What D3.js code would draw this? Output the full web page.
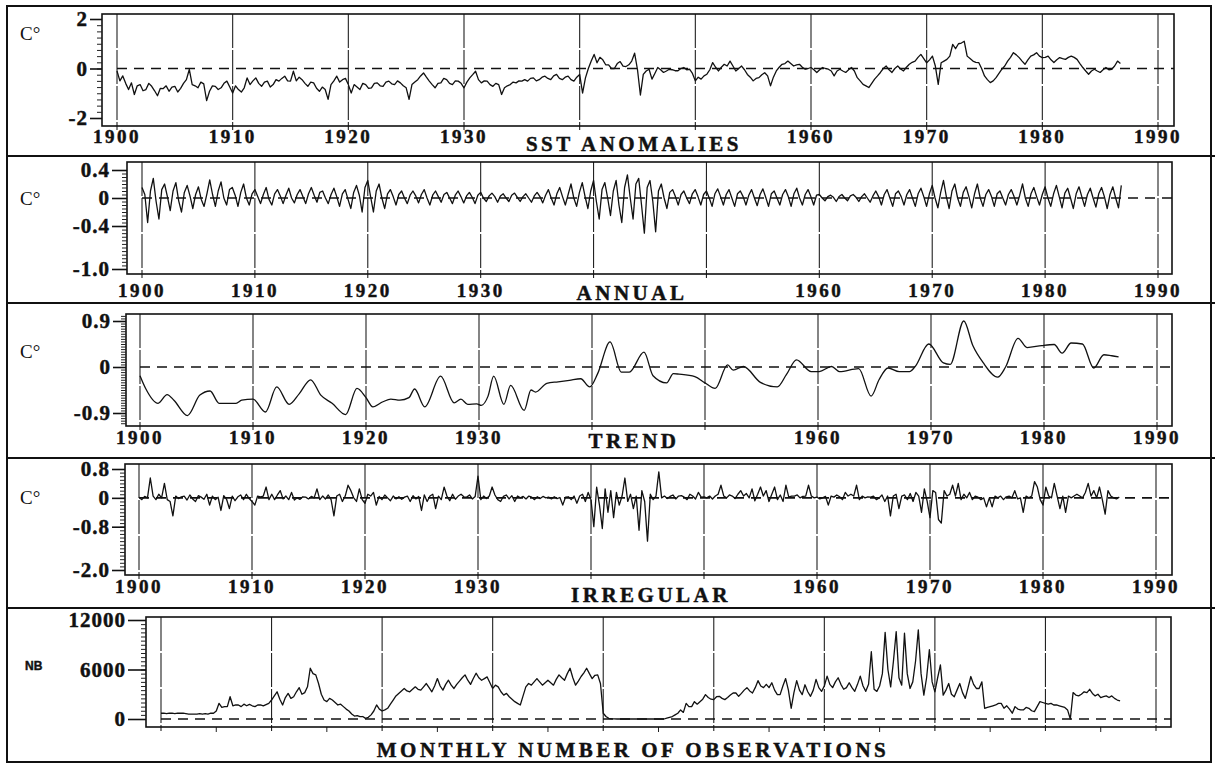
<!DOCTYPE html>
<html>
<head>
<meta charset="utf-8">
<script src="https://cdn.jsdelivr.net/npm/d3@7"></script>
<style>
body { margin: 0; background: #fff; }
svg text { font-family: "Liberation Serif", "Times New Roman", serif; font-weight: bold; fill: #111; stroke: #111; stroke-width: 0.45px; }
.ylab text { font-family: "Liberation Serif", serif; font-size: 21px; font-weight: bold; letter-spacing: 1px; }
.unit { font-weight: normal !important; font-size: 19px; stroke-width: 0 !important; }
.nb { font-family: "Liberation Sans", Arial, sans-serif !important; font-size: 12px; }
</style>
</head>
<body>
<svg id="fig" width="1215" height="765"></svg>
<script>
// decade grid and the years that carry a label (1940/1950 sit under the titles)
var decadeTicks = [1900, 1910, 1920, 1930, 1940, 1950, 1960, 1970, 1980, 1990];
var yearLabels = [1900, 1910, 1920, 1930, 1960, 1970, 1980, 1990];
var halfDecades = [1905, 1915, 1925, 1935, 1945, 1955, 1965, 1975, 1985];

// all series below: one value per quarter, 1900.00 .. 1986.75
var sstAnomalies = [
 -0.1,-0.5,-0.3,-0.6, -0.85,-0.58,-1.05,-0.7, -0.65,-0.9,-0.85,-0.6, -0.72,-0.9,-1.1,-0.8, -0.81,-0.7,-0.92,-0.75,
 -0.72,-0.95,-0.8,-0.6, -0.45,-0.04,-0.65,-0.7, -0.78,-0.55,-0.62,-1.3, -0.92,-0.7,-0.72,-0.85, -0.78,-0.6,-0.51,-0.75,
 -0.99,-0.7,-0.85,-0.95, -0.78,-0.38,-0.65,-0.5, -0.38,-0.6,-0.72,-0.55, -0.51,-0.75,-0.65,-0.45, -0.51,-0.4,-0.31,-0.5,
 -0.51,-0.11,-0.5,-0.35, -0.45,-0.6,-0.72,-0.55, -0.58,-0.8,-0.92,-0.75, -0.85,-1.25,-0.65,-0.5, -0.31,-0.55,-0.45,-0.4,
 -0.65,-0.99,-0.65,-0.75, -0.85,-0.6,-0.65,-0.8, -0.78,-0.6,-0.58,-0.7, -0.72,-0.55,-0.51,-0.62, -0.65,-0.5,-0.58,-0.7,
 -0.78,-1.25,-0.65,-0.55, -0.45,-0.3,-0.18,-0.35, -0.51,-0.65,-0.78,-0.6, -0.58,-0.4,-0.45,-0.6, -0.65,-0.5,-0.51,-0.6,
 -0.78,-0.55,-0.38,-0.25, -0.11,-0.45,-0.58,-0.5, -0.51,-0.65,-0.72,-0.6, -0.65,-1.05,-0.78,-0.7, -0.65,-0.55,-0.58,-0.5,
 -0.51,-0.45,-0.51,-0.4, -0.38,-0.5,-0.45,-0.35, -0.31,-0.4,-0.45,-0.3, -0.24,-0.4,-0.45,-0.35, -0.31,-0.45,-0.51,-0.35,
 -0.24,-0.99,-0.38,0.0, 0.3,0.57,0.23,0.45, 0.35,0.15,0.15,0.0, 0.0,0.2,0.28,0.1, 0.08,0.15,0.3,0.62,
 -0.05,-1.07,-0.24,-0.1, -0.03,-0.43,-0.2,0.04, -0.05,-0.16,-0.1,-0.03, -0.05,-0.09,-0.09,0.0, 0.04,-0.05,-0.03,-0.2,
 -0.5,-0.35,-0.43,-0.3, -0.23,-0.05,0.24,0.05, -0.1,0.05,0.17,0.1, 0.3,0.1,-0.1,0.0, 0.1,-0.05,-0.24,-0.35,
 -0.5,-0.4,-0.37,-0.25, -0.17,-0.3,-0.7,-0.35, -0.1,0.05,0.17,0.2, 0.3,0.2,0.1,0.15, 0.17,0.05,-0.03,0.0,
 0.04,-0.05,-0.16,-0.05, 0.04,0.0,-0.03,-0.1, -0.3,-0.1,-0.03,-0.1, -0.16,-0.05,0.04,-0.1, -0.37,-0.5,-0.64,-0.7,
 -0.77,-0.6,-0.43,-0.3, -0.16,0.0,0.1,-0.05, -0.16,0.0,0.1,-0.02, -0.1,0.05,0.17,0.25, 0.3,0.45,0.57,0.4,
 0.23,0.35,0.5,0.1, -0.64,0.23,0.3,0.37, 0.5,0.97,0.8,1.0, 1.03,1.1,0.5,0.4, 0.3,0.25,0.24,0.0,
 -0.3,-0.45,-0.57,-0.5, -0.37,-0.2,-0.03,0.1, 0.3,0.45,0.64,0.55, 0.44,0.3,0.17,0.35, 0.5,0.55,0.64,0.5,
 0.44,0.45,0.5,0.35, 0.24,0.35,0.44,0.4, 0.37,0.45,0.5,0.45, 0.37,0.2,0.04,-0.1, -0.23,-0.1,-0.03,-0.1,
 -0.16,-0.05,0.04,-0.05, -0.03,0.1,0.3,0.2
];

var annualCycle = [
 0.15,0.05,-0.35,0.1, 0.28,-0.05,-0.3,0.12, 0.2,0.02,-0.18,0.1, 0.22,-0.04,-0.2,0.08, 0.18,0.03,-0.15,0.05,
 0.16,-0.02,-0.12,0.06, 0.26,0.05,-0.12,0.1, 0.23,0.0,-0.1,0.12, 0.15,0.04,-0.12,0.08, 0.2,0.0,-0.1,0.06,
 0.12,0.02,-0.08,0.05, 0.15,-0.02,-0.1,0.06, 0.12,0.03,-0.08,0.04, 0.14,0.0,-0.07,0.05, 0.12,0.02,-0.08,0.06,
 0.15,0.04,-0.06,0.08, 0.1,0.0,-0.08,0.05, 0.14,0.02,-0.12,0.06, 0.12,-0.02,-0.15,0.08, 0.18,0.04,-0.2,0.15,
 0.25,0.02,-0.2,0.1, 0.2,0.0,-0.15,0.06, 0.12,0.02,-0.1,0.05, 0.1,0.0,-0.08,0.04, 0.1,0.03,-0.07,0.05,
 0.12,0.0,-0.1,0.04, 0.1,0.02,-0.06,0.05, 0.08,0.0,-0.08,0.04, 0.1,0.02,-0.07,0.03, 0.08,0.01,-0.08,0.04,
 0.08,0.0,-0.05,0.03, 0.07,0.02,-0.06,0.03, 0.06,0.0,-0.05,0.04, 0.07,0.01,-0.05,0.02, 0.06,0.0,-0.06,0.03,
 0.08,0.02,-0.07,0.04, 0.12,0.0,-0.1,0.06, 0.15,0.02,-0.1,0.05, 0.2,0.0,-0.12,0.08, 0.22,0.02,-0.15,0.1,
 0.25,-0.05,-0.3,0.12, 0.22,0.0,-0.25,0.1, 0.25,-0.1,-0.35,0.15, 0.33,0.0,-0.3,0.2, 0.28,-0.1,-0.5,0.15,
 0.25,-0.05,-0.48,0.1, 0.2,0.0,-0.15,0.08, 0.12,0.02,-0.1,0.05, 0.1,0.0,-0.08,0.06, 0.12,0.02,-0.1,0.05,
 0.1,0.0,-0.12,0.06, 0.13,0.02,-0.1,0.05, 0.12,0.0,-0.12,0.06, 0.1,0.02,-0.1,0.04, 0.12,0.0,-0.11,0.05,
 0.13,0.01,-0.12,0.06, 0.1,0.0,-0.1,0.05, 0.12,0.02,-0.12,0.06, 0.14,0.0,-0.1,0.05, 0.12,0.02,-0.1,0.04,
 0.05,0.0,-0.04,0.02, 0.04,0.01,-0.05,0.02, 0.05,0.0,-0.04,0.03, 0.05,0.01,-0.05,0.02, 0.06,0.0,-0.06,0.03,
 0.1,0.02,-0.1,0.05, 0.12,0.0,-0.12,0.06, 0.1,0.02,-0.1,0.05, 0.12,0.0,-0.12,0.06, 0.14,0.02,-0.12,0.06,
 0.18,0.0,-0.14,0.08, 0.25,0.02,-0.15,0.1, 0.2,0.0,-0.12,0.08, 0.16,0.02,-0.14,0.06, 0.2,0.0,-0.12,0.05,
 0.12,0.02,-0.12,0.06, 0.1,0.0,-0.1,0.05, 0.12,0.02,-0.1,0.04, 0.2,0.0,-0.12,0.06, 0.15,0.02,-0.1,0.05,
 0.16,0.0,-0.12,0.06, 0.18,0.02,-0.14,0.07, 0.14,0.0,-0.15,0.06, 0.16,0.02,-0.12,0.05, 0.14,0.0,-0.13,0.06,
 0.15,0.02,-0.15,0.05, 0.16,0.0,-0.14,0.18
];

var irregular = [
 0.02,-0.05,0.04,0.0, 0.55,0.05,-0.05,0.1, 0.0,0.4,-0.05,-0.1, -0.5,0.05,-0.02,0.03, 0.05,-0.06,0.08,-0.03,
 -0.1,0.06,0.02,-0.04, 0.1,-0.2,0.05,-0.05, 0.02,-0.35,0.06,-0.04, -0.3,0.05,-0.08,0.03, 0.08,-0.05,0.1,-0.02,
 -0.1,-0.2,0.05,0.03, 0.05,0.3,-0.05,0.1, -0.05,0.08,0.2,-0.03, 0.05,-0.05,0.15,-0.06, 0.0,-0.04,0.03,0.02,
 -0.03,0.04,0.0,0.25, -0.05,0.05,-0.03,0.08, -0.05,-0.5,0.05,0.1, -0.1,0.05,0.35,0.2, 0.0,-0.1,0.25,-0.05,
 -0.15,0.1,0.05,0.15, -0.2,0.04,-0.05,0.08, 0.0,-0.08,0.05,-0.03, 0.03,-0.04,0.02,0.05, -0.1,0.06,-0.03,0.04,
 -0.35,0.08,-0.1,0.05, 0.1,-0.3,0.05,-0.05, 0.3,0.05,-0.08,0.1, -0.04,0.05,0.1,0.03, 0.02,0.08,-0.03,0.04,
 0.6,-0.05,0.05,-0.02, 0.05,0.3,0.08,-0.05, -0.1,0.04,0.08,-0.03, 0.06,-0.1,0.05,0.0, 0.04,-0.03,0.05,0.02,
 -0.05,0.03,-0.02,0.04, 0.0,0.02,-0.03,0.03, -0.02,0.01,-0.2,0.02, 0.03,-0.05,0.05,-0.15, 0.05,0.1,-0.1,0.15,
 -0.05,-0.8,0.3,-0.2, -0.85,0.25,-0.4,0.2, -0.55,0.15,-0.2,0.05, 0.55,-0.1,0.1,-0.3, 0.05,-0.9,0.2,-0.1,
 -1.2,0.1,-0.05,0.05, 0.72,0.0,0.05,-0.02, 0.04,0.08,-0.03,0.05, 0.06,0.02,-0.05,0.1, 0.05,-0.03,0.15,0.02,
 0.03,0.0,0.05,-0.03, 0.05,0.1,0.35,0.05, 0.0,0.08,0.05,-0.02, 0.1,0.2,0.05,0.12, 0.0,0.25,-0.08,0.1,
 0.3,0.05,0.2,-0.1, 0.1,0.3,-0.05,0.08, -0.1,0.35,0.02,0.05, 0.05,0.08,0.0,0.04, 0.05,0.35,0.05,0.0,
 0.02,-0.03,0.0,0.04, -0.2,0.05,0.02,0.08, 0.03,-0.05,0.15,0.05, 0.1,0.05,0.35,-0.05, 0.05,0.0,0.03,0.02,
 0.05,-0.05,0.0,0.08, -0.1,0.05,-0.5,0.05, 0.1,-0.3,0.05,0.08, -0.05,0.12,-0.1,0.15, 0.05,-0.4,0.25,-0.1,
 -0.55,0.2,0.15,-0.6, -0.7,0.2,0.05,0.1, 0.35,0.05,0.4,-0.05, 0.1,0.0,0.15,-0.05, 0.05,0.02,-0.05,0.0,
 -0.25,0.0,-0.25,0.05, 0.0,0.05,-0.05,0.03, 0.05,0.0,0.2,-0.03, 0.0,-0.4,0.05,0.0, 0.05,0.45,0.3,-0.05,
 -0.2,0.3,0.05,0.0, 0.4,0.05,-0.3,0.05, -0.4,0.05,0.0,0.05, 0.1,0.05,0.0,0.15, 0.4,0.05,0.2,0.0,
 0.3,-0.05,-0.45,0.2, 0.05,0.0,-0.03,0.02
];

var obsCount = [
 700,700,650,700, 700,650,700,700, 700,650,600,600, 600,600,650,600, 650,600,700,700,
 970,1900,1400,1500, 1500,2700,1600,1700, 1700,1500,1800,1600, 1780,1600,1500,1700, 1700,1600,1750,1900,
 2300,2800,3300,2400, 1700,2600,3100,2500, 2700,3300,3800,3000, 3200,3900,6150,5500, 5350,4300,3000,2300,
 2100,2500,2300,2000, 1700,1800,1500,1200, 970,600,360,400, 280,300,80,200, 500,970,1700,1200,
 970,1100,1300,1800, 2300,2800,3100,3400, 3700,3400,3300,3600, 3900,3600,3500,3900, 4300,3800,3300,4000,
 4900,4000,3500,4200, 4700,4100,3700,4200, 4600,5000,5350,4700, 4200,4900,5550,5000, 4700,4900,5100,4400,
 3700,4100,3900,3300, 2900,3100,2700,2400, 2100,1900,1700,2800, 3900,4300,4100,4500, 4900,4500,4100,4400,
 4700,4400,4100,4800, 5350,5000,4700,5500, 6150,5000,4100,4600, 5150,5600,6150,5500, 4900,5300,5350,4300,
 700,300,80,30, 20,0,0,0, 0,0,0,0, 0,0,0,0, 0,0,0,0,
 0,0,0,100, 200,300,500,700, 1100,800,1900,1500, 1500,2100,1800,2100, 2400,2950,2600,2400,
 2350,2700,2750,2500, 2350,2600,2900,3150, 3150,2750,3100,3500, 3800,3400,3150,3800, 4650,4000,3800,4200,
 3800,4400,3500,2950, 2950,4000,4900,3500, 1300,3200,4650,3500, 2950,4150,3300,2750, 3500,4800,3800,3350,
 4000,5200,4200,3800, 4500,5000,4200,3600, 3800,4400,3800,3350, 4200,5200,4000,3350, 4200,8150,3600,3350,
 4000,5500,10500,6000, 3900,7000,10600,5000, 4100,10400,5500,3700, 4500,7000,10800,5500, 2900,5000,8400,4500,
 3300,5000,6550,2900, 3500,4300,3000,2700, 3500,4300,3200,2500, 3800,5150,4200,3700, 3700,4500,1300,1400,
 1500,1600,1700,1900, 1900,1300,1600,1200, 700,1500,1200,1100, 1100,1400,1300,1000, 900,1500,2100,2000,
 1900,1800,1900,1700, 1700,1600,1500,1400, 1100,0,3200,2900, 2800,3000,3300,3200, 3600,3100,2800,3000,
 2600,2700,2800,2600, 2800,2500,2300,2200
];

// smoothed trend, [year, value] at its turning points
var trendPoints = [
 [1900.0,-0.17],[1900.5,-0.42],[1901.6,-0.71],[1902.4,-0.54],[1903.0,-0.65],[1904.2,-0.95],[1905.3,-0.55],
 [1906.2,-0.47],[1907.0,-0.71],[1908.5,-0.71],[1909.0,-0.65],[1910.0,-0.63],[1911.1,-0.88],[1912.1,-0.39],
 [1913.2,-0.73],[1914.1,-0.52],[1915.1,-0.25],[1916.0,-0.55],[1917.0,-0.71],[1918.2,-0.93],[1919.2,-0.42],
 [1920.0,-0.6],[1920.6,-0.78],[1921.5,-0.68],[1922.2,-0.63],[1923.0,-0.65],[1923.8,-0.6],[1924.3,-0.43],
 [1925.2,-0.78],[1926.6,-0.18],[1927.8,-0.7],[1928.4,-0.63],[1929.0,-0.73],[1929.8,-0.72],[1930.2,-0.75],
 [1930.8,-0.57],[1931.3,-0.18],[1932.2,-0.73],[1932.8,-0.36],[1934.0,-0.85],[1934.6,-0.45],[1935.0,-0.49],
 [1936.0,-0.32],[1937.0,-0.29],[1938.0,-0.26],[1939.0,-0.23],[1939.8,-0.39],[1940.5,-0.13],[1941.6,0.49],
 [1942.6,-0.1],[1943.3,-0.1],[1944.6,0.29],[1945.4,-0.17],[1946.6,-0.31],[1947.2,-0.13],[1947.7,-0.14],
 [1949.1,-0.19],[1950.0,-0.31],[1950.9,-0.42],[1952.0,0.04],[1952.5,-0.06],[1953.4,0.01],[1954.9,-0.3],
 [1956.4,-0.39],[1957.2,-0.15],[1958.1,0.14],[1959.4,-0.09],[1960.1,-0.09],[1961.2,0.01],[1961.9,-0.09],
 [1963.6,-0.03],[1964.7,-0.57],[1965.4,-0.25],[1966.2,-0.02],[1967.2,-0.09],[1968.1,-0.09],[1968.6,0.01],
 [1969.8,0.45],[1971.1,0.08],[1971.7,0.05],[1972.9,0.9],[1973.7,0.42],[1974.6,0.09],[1975.9,-0.2],
 [1976.6,0.0],[1977.7,0.56],[1978.5,0.38],[1979.8,0.42],[1980.9,0.44],[1981.6,0.27],[1982.4,0.47],
 [1983.4,0.45],[1984.4,-0.02],[1985.3,0.24],[1986.0,0.22],[1986.6,0.2]
];

function fmtSigned(digits) {
    return function (d) {
        if (d === 0) { return "0"; }
        return (d < 0 ? "-" : "") + Math.abs(d).toFixed(digits);
    };
}

// page layout of the five stacked panels
var panels = [
    { series: sstAnomalies, top: 14, bottom: 126, axisX: 102, right: 1174, xRange: [117, 1158],
      yDomain: [-2, 2], yRange: [118, 19], ticks: [2, 0, -2], fmt: fmtSigned(0), tickLen: 12,
      minor: [-2, 2, 0.25], unit: "C°", unitY: 40, labelY: 143,
      title: "SST ANOMALIES", titleX: 634, titleY: 151 },
    { series: annualCycle, top: 162, bottom: 274, axisX: 127, right: 1172, xRange: [142, 1158],
      yDomain: [-1.0, -0.4, 0, 0.4], yRange: [269, 226, 198, 170], ticks: [0.4, 0, -0.4, -1.0], fmt: fmtSigned(1), tickLen: 15,
      minor: [-1.0, 0.4, 0.05], unit: "C°", unitY: 205, labelY: 297,
      title: "ANNUAL", titleX: 632, titleY: 300 },
    { trend: trendPoints, top: 314, bottom: 426, axisX: 126, right: 1172, xRange: [140, 1157],
      yDomain: [-0.9, 0.9], yRange: [413, 321], ticks: [0.9, 0, -0.9], fmt: fmtSigned(1), tickLen: 13,
      minor: [-1.1, 1.0, 0.05], unit: "C°", unitY: 358, labelY: 444,
      title: "TREND", titleX: 634, titleY: 448 },
    { series: irregular, top: 464, bottom: 575, axisX: 125, right: 1172, xRange: [139, 1156],
      yDomain: [-2.0, 0.8], yRange: [570, 469], ticks: [0.8, 0, -0.8, -2.0], fmt: fmtSigned(1), tickLen: 13,
      minor: [-2.0, 0.8, 0.1], unit: "C°", unitY: 504, labelY: 593,
      title: "IRREGULAR", titleX: 651, titleY: 602 },
    { series: obsCount, top: 617, bottom: 727, axisX: 146, right: 1171, xRange: [161, 1156],
      yDomain: [0, 12000], yRange: [719, 620], ticks: [12000, 6000, 0], fmt: d3.format("d"), tickLen: 18,
      minor: [0, 12000, 500], unit: "NB", unitY: 670, labelY: null, midTicks: true,
      title: "MONTHLY NUMBER OF OBSERVATIONS", titleX: 633, titleY: 757 }
];

function StackPanel(spec) {
    this.Spec = spec;
    this.X = d3.scaleLinear().domain([1900, 1990]).range(spec.xRange);
    this.Y = d3.scaleLinear().domain(spec.yDomain).range(spec.yRange);
}

StackPanel.prototype.Draw = function (svg) {
    var me = this;
    var s = me.Spec;
    var g = svg.append("g");

    // decade grid, long dashes like the original plotter
    g.selectAll(".grid")
        .data(decadeTicks)
        .enter()
        .append("line")
        .attr("x1", function (d) { return me.X(d); })
        .attr("x2", function (d) { return me.X(d); })
        .attr("y1", s.top)
        .attr("y2", s.bottom + 4)
        .attr("stroke", "#222")
        .attr("stroke-width", 1.1)
        .attr("stroke-dasharray", "34,2");

    if (s.midTicks) {
        g.selectAll(".mid")
            .data(halfDecades)
            .enter()
            .append("line")
            .attr("x1", function (d) { return me.X(d); })
            .attr("x2", function (d) { return me.X(d); })
            .attr("y1", s.bottom)
            .attr("y2", s.bottom + 5)
            .attr("stroke", "#222");
    }

    // zero reference line
    g.append("line")
        .attr("x1", me.X(1900))
        .attr("x2", s.right)
        .attr("y1", me.Y(0))
        .attr("y2", me.Y(0))
        .attr("stroke", "#111")
        .attr("stroke-width", 1.6)
        .attr("stroke-dasharray", "10,7");

    g.append("rect")
        .attr("x", s.axisX)
        .attr("y", s.top)
        .attr("width", s.right - s.axisX)
        .attr("height", s.bottom - s.top)
        .attr("fill", "none")
        .attr("stroke", "#111")
        .attr("stroke-width", 1.6);

    // y axis: minor ticks, then the labelled major ticks
    var minorVals = d3.range(s.minor[0], s.minor[1] + s.minor[2] / 2, s.minor[2]);
    var minorAxis = g.append("g")
        .attr("transform", "translate(" + s.axisX + ",0)")
        .call(d3.axisLeft(me.Y).tickValues(minorVals).tickSize(5).tickFormat(""));
    minorAxis.select(".domain").remove();
    minorAxis.selectAll("line").attr("stroke", "#222");

    var majorAxis = g.append("g")
        .classed("ylab", true)
        .attr("transform", "translate(" + s.axisX + ",0)")
        .call(d3.axisLeft(me.Y).tickValues(s.ticks).tickSize(s.tickLen).tickPadding(2).tickFormat(s.fmt));
    majorAxis.select(".domain").remove();
    majorAxis.selectAll("line").attr("stroke", "#111").attr("stroke-width", 1.6);

    // the data
    var path;
    if (s.trend) {
        path = d3.line()
            .x(function (d) { return me.X(d[0]); })
            .y(function (d) { return me.Y(d[1]); })
            .curve(d3.curveMonotoneX)(s.trend);
    } else {
        path = d3.line()
            .x(function (d, i) { return me.X(1900 + i * 0.25); })
            .y(function (d) { return me.Y(d); })(s.series);
    }
    g.append("path")
        .attr("d", path)
        .attr("fill", "none")
        .attr("stroke", "#111")
        .attr("stroke-width", 1.3)
        .attr("stroke-linejoin", "round");

    if (s.labelY !== null) {
        g.selectAll(".yr")
            .data(yearLabels)
            .enter()
            .append("text")
            .attr("x", function (d) { return me.X(d); })
            .attr("y", s.labelY)
            .attr("text-anchor", "middle")
            .style("font-size", "19px")
            .style("letter-spacing", "2.5px")
            .text(function (d) { return d; });
    }

    g.append("text")
        .attr("x", s.titleX)
        .attr("y", s.titleY)
        .attr("text-anchor", "middle")
        .style("font-size", "21px")
        .style("letter-spacing", "3.5px")
        .text(s.title);

    g.append("text")
        .classed(s.unit === "NB" ? "nb" : "unit", true)
        .attr("x", s.unit === "NB" ? 25 : 20)
        .attr("y", s.unitY)
        .text(s.unit);
};

var svg = d3.select("#fig");

svg.append("rect")
    .attr("width", 1215)
    .attr("height", 765)
    .attr("fill", "#fff");

panels.forEach(function (spec) {
    new StackPanel(spec).Draw(svg);
});

// outer box and panel separators
svg.append("rect")
    .attr("x", 7)
    .attr("y", 6)
    .attr("width", 1204)
    .attr("height", 756)
    .attr("fill", "none")
    .attr("stroke", "#111")
    .attr("stroke-width", 2);

svg.selectAll(".sep")
    .data([156, 303, 458, 608])
    .enter()
    .append("line")
    .attr("x1", 7)
    .attr("x2", 1215)
    .attr("y1", function (d) { return d; })
    .attr("y2", function (d) { return d; })
    .attr("stroke", "#111")
    .attr("stroke-width", 2);
</script>
</body>
</html>
